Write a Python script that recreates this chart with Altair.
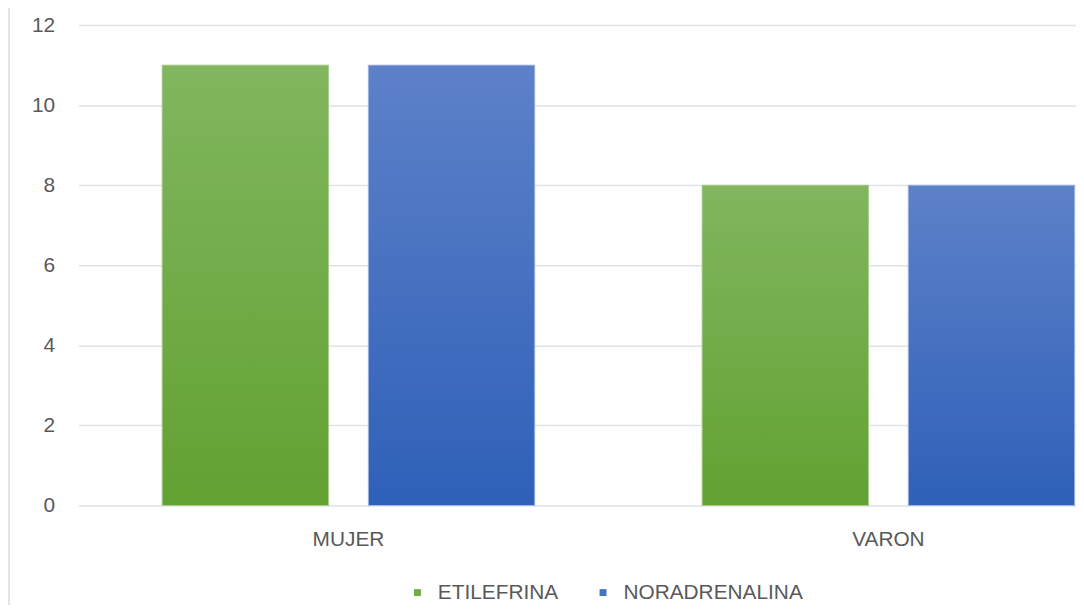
import altair as alt
import pandas as pd

categories = ["MUJER", "VARON"]
series = ["ETILEFRINA", "NORADRENALINA"]
etilefrina = [11, 8]
noradrenalina = [11, 8]
solid_colors = ["#70ad47", "#4472c4"]
y_ticks = [0, 2, 4, 6, 8, 10, 12]

rows = []
for i, c in enumerate(categories):
    rows.append({"cat": c, "serie": series[0], "valor": etilefrina[i]})
    rows.append({"cat": c, "serie": series[1], "valor": noradrenalina[i]})
df = pd.DataFrame(rows)

FONT = "Liberation Sans"
TXT = "#595959"
FS = 21

x_enc = alt.X(
    "cat:N", sort=categories,
    scale=alt.Scale(domain=categories, range=[0, 1088], paddingInner=0, paddingOuter=0),
    axis=alt.Axis(title=None, labelAngle=0, domain=False, ticks=False, labelPadding=23,
                  labelFontSize=FS, labelColor=TXT, labelFont=FONT, grid=False),
)
xoff = alt.XOffset("serie:N", sort=series,
                   scale=alt.Scale(domain=series, paddingInner=0.193, paddingOuter=0.406))
y_enc = alt.Y(
    "valor:Q", scale=alt.Scale(domain=[0, 12]),
    axis=alt.Axis(title=None, values=y_ticks, domain=False, ticks=False, labelPadding=24,
                  labelFontSize=FS, labelColor=TXT, labelFont=FONT,
                  gridColor="#dfe2e7", gridWidth=1.5),
)

base = alt.Chart(df).mark_bar().encode(
    x=x_enc, xOffset=xoff, y=y_enc,
    color=alt.Color("serie:N", sort=series,
                    scale=alt.Scale(domain=series, range=solid_colors),
                    legend=alt.Legend(title=None, orient="none", legendX=331, legendY=561,
                                      direction="horizontal", symbolType="square",
                                      symbolSize=49, labelFontSize=FS, labelFont=FONT,
                                      labelColor=TXT, columnPadding=34, labelOffset=10,
                                      labelLimit=0)),
)

def grad(top, bottom):
    return alt.LinearGradient(gradient="linear", x1=0, y1=0, x2=0, y2=1,
                              stops=[alt.GradientStop(color=top, offset=0),
                                     alt.GradientStop(color=bottom, offset=1)])

green = alt.Chart(df).transform_filter(alt.datum.serie == series[0]).mark_bar(
    fill=grad("#82b65f", "#62a132"), stroke="#a9cf90", strokeWidth=1
).encode(x=x_enc, xOffset=xoff, y=y_enc)

blue = alt.Chart(df).transform_filter(alt.datum.serie == series[1]).mark_bar(
    fill=grad("#5d81c9", "#2f60b8"), stroke="#a3b8e4", strokeWidth=1
).encode(x=x_enc, xOffset=xoff, y=y_enc)

border = alt.Chart(pd.DataFrame({"k": [0]})).mark_rule(color="#d9dce1", strokeWidth=1.5).encode(
    x=alt.value(-70), y=alt.value(-20), y2=alt.value(600)
)

chart = alt.layer(base, green, blue, border).properties(
    width=1005, height=484,
    autosize=alt.AutoSizeParams(type="none"),
    padding={"left": 71, "top": 15, "right": 0, "bottom": 98},
    background="white",
).configure_view(stroke=None)

chart.save("out.html", embed_options={"renderer": "svg", "actions": False})
